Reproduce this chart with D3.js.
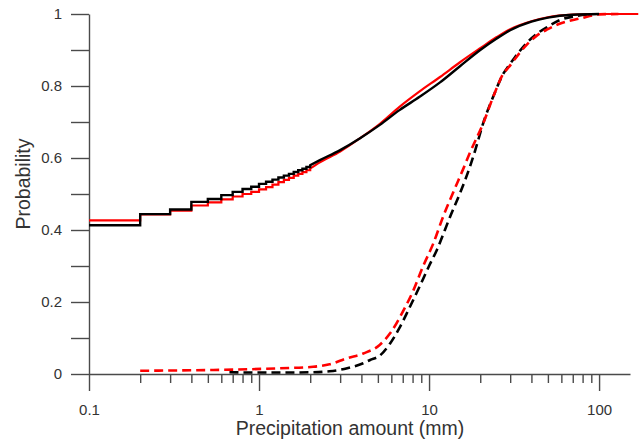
<!DOCTYPE html>
<html>
<head>
<meta charset="utf-8">
<script src="https://cdn.jsdelivr.net/npm/d3@7"></script>
<style>
  html, body { margin: 0; padding: 0; background: #fff; }
  svg { display: block; }
  text { font-family: "Liberation Sans", Arial, sans-serif; fill: #333; }
</style>
</head>
<body>
<svg id="chart" width="644" height="443"></svg>
<script>
// Empirical cumulative distributions of daily precipitation amount.
// Solid lines: all days (stepwise at the 0.1 mm reporting resolution, smooth above 2 mm).
// Dashed lines: wet-day amounts.

const stepAmounts = [0.1, 0.2, 0.3, 0.4, 0.5, 0.6, 0.7, 0.8, 0.9, 1.0,
                     1.1, 1.2, 1.3, 1.4, 1.5, 1.6, 1.7, 1.8, 1.9, 2.0];
const blackStepProb = [0.413, 0.444, 0.457, 0.478, 0.486, 0.497, 0.506, 0.514, 0.520, 0.528,
                       0.534, 0.540, 0.546, 0.551, 0.556, 0.561, 0.566, 0.570, 0.575, 0.580];
const redStepProb   = [0.427, 0.443, 0.454, 0.468, 0.477, 0.485, 0.493, 0.500, 0.506, 0.513,
                       0.519, 0.526, 0.533, 0.539, 0.545, 0.551, 0.556, 0.561, 0.566, 0.571];

const blackTailAmounts = [2.0, 2.28, 3.0, 3.93, 5.14, 6.7, 8.8, 11.6, 15.2, 20, 25, 30, 40, 50, 70, 100];
const blackTailProb    = [0.580, 0.594, 0.622, 0.655, 0.692, 0.733, 0.770, 0.810, 0.855, 0.900, 0.932, 0.955, 0.979, 0.990, 0.998, 1.0];
const redTailAmounts   = [2.0, 2.28, 3.0, 3.93, 5.14, 6.7, 8.8, 11.6, 15.2, 20, 25, 30, 40, 50, 70, 100, 170];
const redTailProb      = [0.571, 0.588, 0.618, 0.655, 0.695, 0.742, 0.785, 0.825, 0.866, 0.905, 0.936, 0.958, 0.980, 0.991, 0.998, 1.0, 1.0];

const redDashAmounts = [0.2, 0.5, 0.85, 1.33, 2.08, 2.6, 3.3, 4.1, 5.1, 5.9, 7.1, 8.1, 9.2, 10.6, 12.1, 13.8, 15.8, 17.4,
                        20.8, 24.3, 27.4, 29.4, 32, 37.6, 43, 50, 58, 78, 100, 130];
const redDashProb    = [0.009, 0.011, 0.013, 0.016, 0.020, 0.027, 0.044, 0.057, 0.080, 0.113, 0.178, 0.233, 0.298, 0.363, 0.437, 0.502, 0.567, 0.615,
                        0.696, 0.780, 0.835, 0.852, 0.875, 0.915, 0.940, 0.958, 0.972, 0.988, 0.999, 1.0];
const blackDashAmounts = [0.67, 1.0, 1.33, 2.08, 2.6, 3.3, 4.1, 4.5, 5.1, 5.9, 6.7, 7.6, 8.8, 10, 11.1, 13.3, 15.2, 17.4, 18.7,
                          20.8, 24.3, 27.4, 29.4, 32, 37.6, 43, 50, 58, 75, 90];
const blackDashProb    = [0.005, 0.004, 0.004, 0.005, 0.0075, 0.016, 0.030, 0.039, 0.050, 0.085, 0.128, 0.180, 0.243, 0.300, 0.344, 0.437, 0.502, 0.576, 0.622,
                          0.696, 0.780, 0.835, 0.856, 0.880, 0.920, 0.945, 0.965, 0.982, 0.995, 1.0];

const yTickValues  = [0, 0.1, 0.2, 0.3, 0.4, 0.5, 0.6, 0.7, 0.8, 0.9, 1];
const yLabelValues = [0, 0.2, 0.4, 0.6, 0.8, 1];
const xMajorTicks  = [0.1, 1, 10, 100];
const xTickLabels  = ["0.1", "1", "10", "100"];

const xTitle = "Precipitation amount (mm)";
const yTitle = "Probability";

const svg = d3.select("#chart");

const x = d3.scaleLog().domain([0.1, 152]).range([89, 630]);
const y = d3.scaleLinear().domain([0, 1]).range([374, 14]);

// minor log ticks 2..9 in each decade
const xMinorTicks = [];
[0.1, 1, 10, 100].forEach(d => {
  for (let k = 2; k <= 9; k++) {
    const v = d * k;
    if (v <= 152) xMinorTicks.push(v);
  }
});

const axisColor = "#4a4a4a";

// x axis: minor ticks
const gxMinor = svg.append("g")
  .attr("transform", `translate(0,${y(0)})`)
  .call(d3.axisBottom(x).tickValues(xMinorTicks).tickSize(9).tickSizeOuter(0).tickFormat(""));
// x axis: major ticks with labels
const gxMajor = svg.append("g")
  .attr("transform", `translate(0,${y(0)})`)
  .call(d3.axisBottom(x).tickValues(xMajorTicks).tickSize(17).tickSizeOuter(0).tickPadding(13)
        .tickFormat((d, i) => xTickLabels[i]));

// y axis
const gy = svg.append("g")
  .attr("transform", `translate(${x(0.1)},0)`)
  .call(d3.axisLeft(y).tickValues(yTickValues).tickSize(18).tickSizeOuter(0).tickPadding(9)
        .tickFormat(d => yLabelValues.some(v => Math.abs(v - d) < 1e-9) ? d3.format("~g")(d) : ""));

[gxMinor, gxMajor, gy].forEach(g => {
  g.select(".domain").attr("stroke", axisColor).attr("stroke-width", 1.4);
  g.selectAll(".tick line").attr("stroke", axisColor).attr("stroke-width", 1.4);
  g.selectAll(".tick text")
    .attr("fill", "#333")
    .style("font-size", "15px")
    .style("font-family", '"Liberation Sans", Arial, sans-serif');
});
gxMinor.select(".domain").remove();

// axis titles
svg.append("text")
  .attr("x", 350).attr("y", 435)
  .attr("text-anchor", "middle")
  .style("font-size", "19.5px")
  .text(xTitle);

svg.append("text")
  .attr("transform", "translate(29.5,184) rotate(-90)")
  .attr("text-anchor", "middle")
  .style("font-size", "19.5px")
  .text(yTitle);

// curves
const zip = (xs, ys) => xs.map((v, i) => [v, ys[i]]);
const stepLine = d3.line().x(d => x(d[0])).y(d => y(d[1])).curve(d3.curveStepAfter);
const smoothLine = d3.line().x(d => x(d[0])).y(d => y(d[1])).curve(d3.curveMonotoneX);

const plot = svg.append("g").attr("fill", "none");

const RED = "#ff0000", BLACK = "#000000";

// dashed wet-day curves
plot.append("path")
  .attr("d", smoothLine(zip(blackDashAmounts, blackDashProb)))
  .attr("stroke", BLACK).attr("stroke-width", 2.6).attr("stroke-dasharray", "9,5");
plot.append("path")
  .attr("d", smoothLine(zip(redDashAmounts, redDashProb)))
  .attr("stroke", RED).attr("stroke-width", 2.6).attr("stroke-dasharray", "9,5");

// solid all-day curves: steps up to 2 mm, then a smooth tail
plot.append("path")
  .attr("d", stepLine(zip(stepAmounts, redStepProb)) + smoothLine(zip(redTailAmounts, redTailProb)).replace(/^M/, "L"))
  .attr("stroke", RED).attr("stroke-width", 2.2);
plot.append("path")
  .attr("d", stepLine(zip(stepAmounts, blackStepProb)) + smoothLine(zip(blackTailAmounts, blackTailProb)).replace(/^M/, "L"))
  .attr("stroke", BLACK).attr("stroke-width", 2.4);
</script>
</body>
</html>
